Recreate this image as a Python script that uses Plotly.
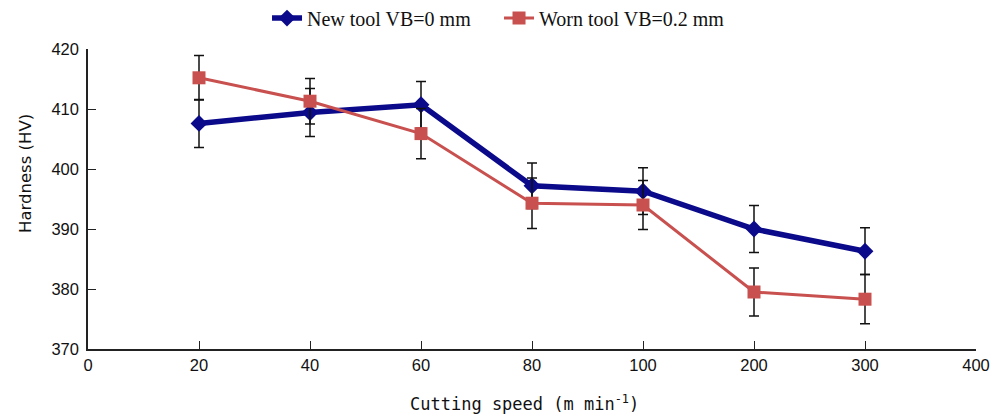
import plotly.graph_objects as go

# Cutting speeds (m/min) placed on an evenly spaced categorical axis
axis_labels = ["0", "20", "40", "60", "80", "100", "200", "300", "400"]
speeds = ["20", "40", "60", "80", "100", "200", "300"]

# Surface hardness (HV) and standard deviations
new_tool_hv = [407.6, 409.4, 410.7, 397.2, 396.3, 390.0, 386.3]
new_tool_err = [4.0, 4.0, 3.9, 3.8, 3.9, 3.9, 3.9]
worn_tool_hv = [415.2, 411.3, 405.9, 394.3, 394.0, 379.5, 378.3]
worn_tool_err = [3.7, 3.8, 4.2, 4.2, 4.1, 4.0, 4.1]

fig = go.Figure()

fig.add_trace(go.Scatter(
    x=speeds, y=new_tool_hv, name="New tool VB=0 mm",
    mode="lines+markers",
    line=dict(color="#0a0a8a", width=5.5),
    marker=dict(symbol="diamond", size=13, color="#0a0a8a"),
    error_y=dict(type="data", array=new_tool_err, visible=True,
                 color="#111111", thickness=1.5, width=5),
))
fig.add_trace(go.Scatter(
    x=speeds, y=worn_tool_hv, name="Worn tool VB=0.2 mm",
    mode="lines+markers",
    line=dict(color="#c8504e", width=3),
    marker=dict(symbol="square", size=13, color="#c8504e"),
    error_y=dict(type="data", array=worn_tool_err, visible=True,
                 color="#111111", thickness=1.5, width=5),
))

tick_font = dict(family="Liberation Sans, Arial, sans-serif", size=16.5, color="#111111")
axis_style = dict(
    showgrid=False, zeroline=False,
    showline=True, linecolor="#222222", linewidth=1.5,
    ticks="inside", ticklen=8, tickwidth=1.3, tickcolor="#222222",
    tickfont=tick_font,
)

fig.update_layout(
    width=1005, height=417,
    margin=dict(l=88, r=29, t=49, b=68, autoexpand=False),
    paper_bgcolor="white", plot_bgcolor="white",
    showlegend=True,
    legend=dict(
        orientation="h", x=0.2016, xanchor="left", y=1.103, yanchor="middle",
        font=dict(family="Liberation Serif, Times New Roman, serif", size=20, color="#111111"),
        itemwidth=30, entrywidth=187, bgcolor="rgba(0,0,0,0)",
    ),
    xaxis=dict(
        type="category", categoryorder="array", categoryarray=axis_labels,
        tickvals=axis_labels, ticktext=axis_labels,
        range=[0, 8], **axis_style,
    ),
    yaxis=dict(range=[370, 420], dtick=10, ticklabelstandoff=4, **axis_style),
    annotations=[
        dict(text="Cutting speed (m min<sup>-1</sup>)", xref="paper", yref="paper",
             x=(524 - 88) / 888, y=-(403 - 349) / 300, xanchor="center", yanchor="middle",
             showarrow=False,
             font=dict(family="DejaVu Sans Mono, monospace", size=17, color="#111111")),
        dict(text="Hardness (HV)", xref="paper", yref="paper", textangle=-90,
             x=-(88 - 25) / 888, y=(349 - 174) / 300, xanchor="center", yanchor="middle",
             showarrow=False,
             font=dict(family="DejaVu Sans, sans-serif", size=16.5, color="#111111")),
    ],
)

fig.write_html("out.html")
